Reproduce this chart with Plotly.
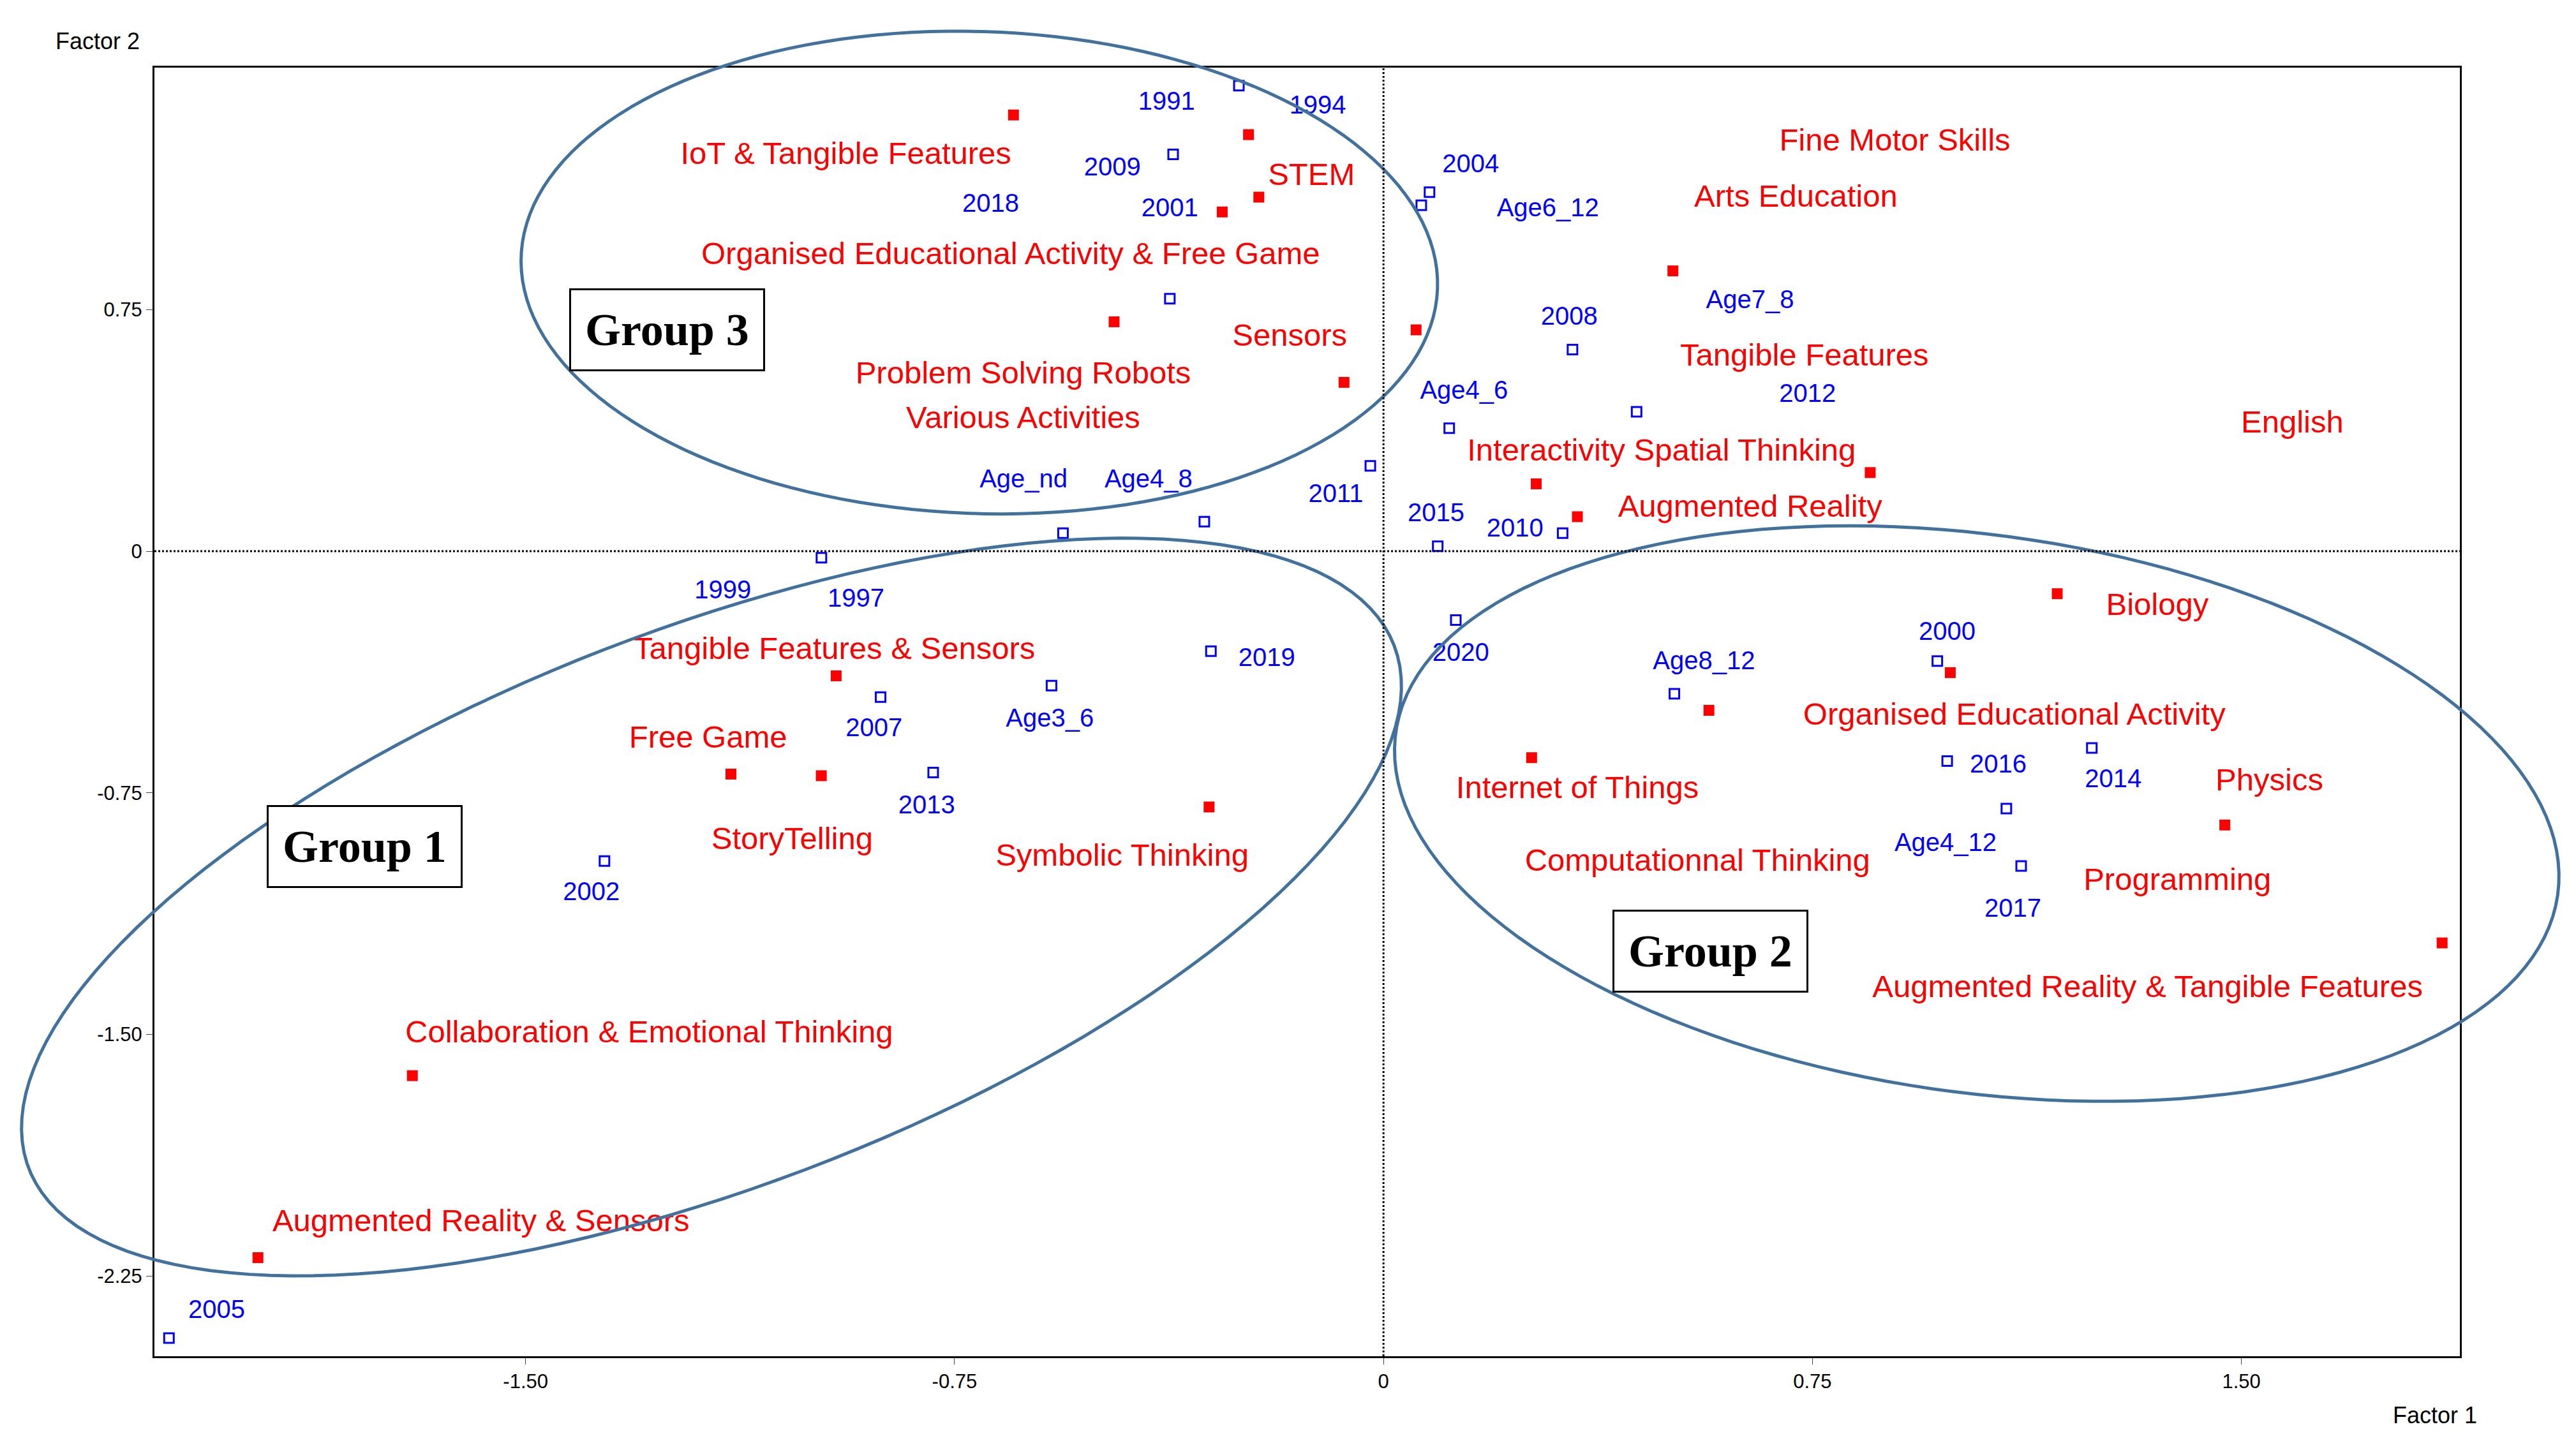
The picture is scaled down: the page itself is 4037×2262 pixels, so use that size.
import numpy as np
import plotly.graph_objects as go

def px2x(p): return (p - 839) / 348.0
def px2y(p): return (333 - p) / 196.5

# Red (features) markers
red_mx = [-0.647,-0.236,-0.282,-0.218,-0.471,-0.069,0.057,0.506,0.851,0.267,0.339,1.178,0.991,0.569,0.259,1.471,1.851,-0.957,-1.141,-0.983,-0.305,-1.698,-1.968]
red_my = [1.354,1.293,1.053,1.099,0.712,0.524,0.687,0.870,0.244,0.209,0.107,-0.132,-0.377,-0.494,-0.641,-0.850,-1.216,-0.387,-0.692,-0.697,-0.794,-1.628,-2.193]
red_labels = ["IoT & Tangible Features","STEM","Organised Educational Activity & Free Game","Sensors",
 "Problem Solving Robots","Various Activities","Fine Motor Skills","Arts Education","Tangible Features",
 "English","Interactivity Spatial Thinking","Augmented Reality","Biology","Organised Educational Activity",
 "Physics","Internet of Things","Computationnal Thinking","Programming","Augmented Reality & Tangible Features",
 "Tangible Features & Sensors","Free Game","StoryTelling","Symbolic Thinking",
 "Collaboration & Emotional Thinking","Augmented Reality & Sensors"]
red_lx = [-0.940,-0.126,-0.652,-0.164,-0.630,-0.630,0.894,0.721,0.736,1.589,0.486,0.641,1.353,1.103,1.549,0.339,0.549,1.388,1.336,-0.960,-1.181,-1.034,-0.457,-1.284,-1.578]
red_ly = [1.226,1.160,0.916,0.662,0.545,0.407,1.267,1.094,0.600,0.392,0.305,0.132,-0.173,-0.514,-0.718,-0.743,-0.967,-1.028,-1.359,-0.311,-0.585,-0.901,-0.951,-1.501,-2.086]

# Blue (years / ages) markers
blue_mx = [px2x(p) for p in [751,711,709,867,862,954,993,879,831,730,644,497,872,948,883,734,637,533,565,365,100,1176,1016,1270,1182,1218,1227]]
blue_my = [px2y(p) for p in [49,91,179,114,122,210,248,258,281,315,322,337,330,322,375,394,415,422,468,522,813,400,420,453,461,490,525]]
blue_labels = ["1991","1994","2009","2018","2001","2004","Age6_12","2008","Age7_8","2012","Age4_6","2011","Age4_8",
 "Age_nd","2015","2010","1999","1997","2020","2019","Age3_6","2007","2013","2002","2005","2000","Age8_12",
 "2016","2014","Age4_12","2017"]
blue_lx = [px2x(p) for p in [707,799,674,600,709,892,939,952,1062,1097,888,810,696,620,871,919,437,518,886,768,636,529,561,357,129,1182,1034,1213,1283,1181,1222]]
blue_ly = [px2y(p) for p in [60,62,100,122,125,98,125,191,181,238,236,299,290,290,311,320,358,363,396,399,436,442,489,542,797,383,401,464,473,512,552]]

x_tick_vals = [-1.5,-0.75,0,0.75,1.5]
x_tick_text = ["-1.50","-0.75","0","0.75","1.50"]
y_tick_vals = [0.75,0,-0.75,-1.5,-2.25]
y_tick_text = ["0.75","0","-0.75","-1.50","-2.25"]

fig = go.Figure()
fig.add_trace(go.Scatter(x=red_mx, y=red_my, mode="markers", marker=dict(symbol="square", color="#ff0000", size=17), hoverinfo="skip"))
fig.add_trace(go.Scatter(x=blue_mx, y=blue_my, mode="markers", marker=dict(symbol="square-open", color="#0000ff", size=15, line=dict(width=3)), hoverinfo="skip"))
fig.add_trace(go.Scatter(x=red_lx, y=red_ly, mode="text", text=red_labels, textfont=dict(color="#ff0000", size=49, family="Liberation Sans Narrow, Arial Narrow, sans-serif"), hoverinfo="skip"))
fig.add_trace(go.Scatter(x=blue_lx, y=blue_ly, mode="text", text=blue_labels, textfont=dict(color="#0000ff", size=40, family="Liberation Sans Narrow, Arial Narrow, sans-serif"), hoverinfo="skip"))

def ellipse(cx, cy, a, b, ang):
    t = np.linspace(0, 2*np.pi, 160)
    r = np.deg2rad(ang)
    px = cx + a*np.cos(t)*np.cos(r) - b*np.sin(t)*np.sin(r)
    py = cy + a*np.cos(t)*np.sin(r) + b*np.sin(t)*np.cos(r)
    pts = [f"{(u-91)/1403:.5f},{(824-v)/786:.5f}" for u, v in zip(px, py)]
    return "M " + " L ".join(pts) + " Z"

ell = dict(color="#41719c", width=5)
shapes = [
    dict(type="path", xref="paper", yref="paper", path=ellipse(593,163,279,147,2), line=ell),
    dict(type="path", xref="paper", yref="paper", path=ellipse(430,550,445,170,-21), line=ell),
    dict(type="path", xref="paper", yref="paper", path=ellipse(1200,493,357,170,8), line=ell),
    dict(type="line", x0=0, x1=0, y0=-2.499, y1=1.501, line=dict(color="black", width=3, dash="dot")),
    dict(type="line", x0=-2.149, x1=1.882, y0=0, y1=0, line=dict(color="black", width=3, dash="dot")),
]
anns = []
for txt, cxp, cyp in [("Group 3",403,198),("Group 1",219,513),("Group 2",1038,577)]:
    anns.append(dict(x=px2x(cxp), y=px2y(cyp), text="<b>"+txt+"</b>", showarrow=False,
                     font=dict(family="Liberation Serif, Times New Roman, serif", size=72, color="black"),
                     bgcolor="white", bordercolor="black", borderwidth=3, borderpad=22))
anns.append(dict(xref="paper", yref="paper", x=(30-91)/1403, y=(824-22)/786, xanchor="left", yanchor="middle", text="Factor 2", showarrow=False, font=dict(size=36, family="Liberation Sans", color="black")))
anns.append(dict(xref="paper", yref="paper", x=(1479-91)/1403, y=(824-860)/786, xanchor="center", yanchor="middle", text="Factor 1", showarrow=False, font=dict(size=36, family="Liberation Sans", color="black")))

fig.update_layout(width=4037, height=2262, plot_bgcolor="white", paper_bgcolor="white", showlegend=False,
    margin=dict(l=234, r=190, t=98, b=144), shapes=shapes, annotations=anns,
    xaxis=dict(range=[-2.149,1.882], tickvals=x_tick_vals, ticktext=x_tick_text, showgrid=False, zeroline=False,
               showline=True, linecolor="black", linewidth=3, mirror=True, ticks="outside", ticklen=10,
               tickfont=dict(size=31, family="Liberation Sans", color="black")),
    yaxis=dict(range=[-2.499,1.501], tickvals=y_tick_vals, ticktext=y_tick_text, showgrid=False, zeroline=False,
               showline=True, linecolor="black", linewidth=3, mirror=True, ticks="outside", ticklen=10,
               tickfont=dict(size=31, family="Liberation Sans", color="black")))
fig.write_html("out.html")
